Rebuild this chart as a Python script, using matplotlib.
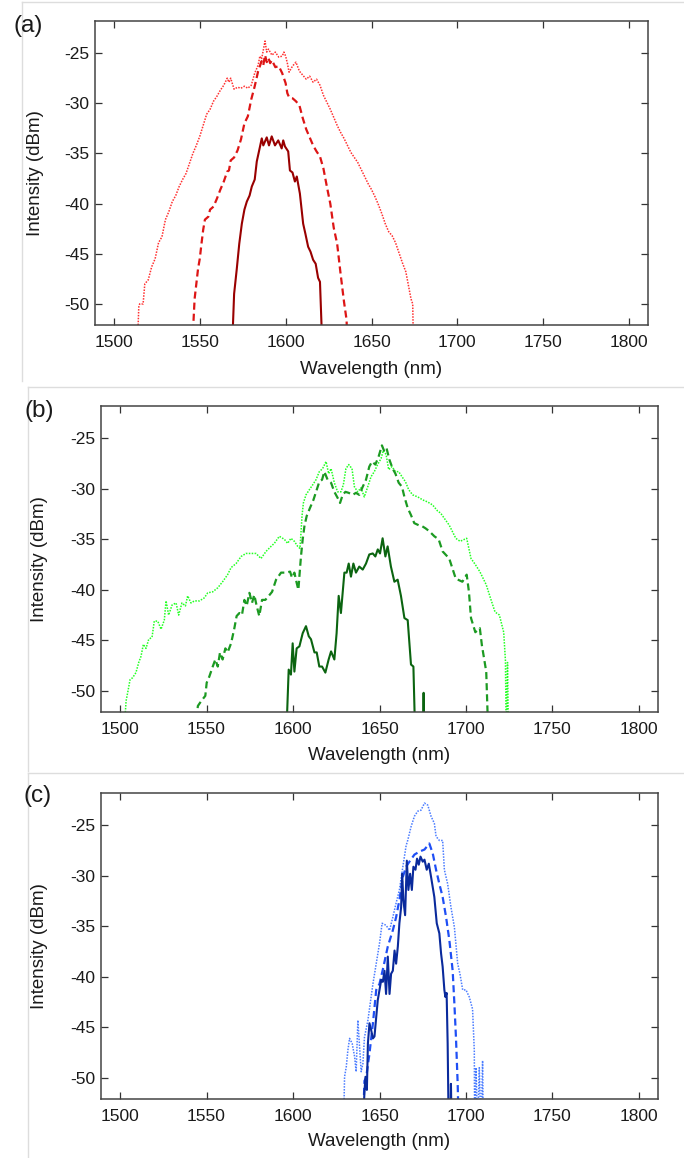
import matplotlib
matplotlib.use('Agg')
import matplotlib.pyplot as plt
import numpy as np
from matplotlib.lines import Line2D

plt.rcParams['font.family'] = ['Liberation Sans', 'DejaVu Sans']
plt.rcParams['axes.unicode_minus'] = False

# ---------------- data ----------------
x_ticks = [1500, 1550, 1600, 1650, 1700, 1750, 1800]
y_ticks = [-50, -45, -40, -35, -30, -25]
panel_labels = ['(a)', '(b)', '(c)']
x_label = 'Wavelength (nm)'
y_label = 'Intensity (dBm)'

# Panel (a)
a_dot_wl = [1513.5, 1514.5, 1515, 1517, 1518,
            1520, 1522, 1524, 1526, 1528, 1530, 1532, 1534, 1536, 1538, 1540, 1542,
            1544, 1546, 1548, 1550, 1552, 1554, 1556, 1558, 1560, 1562, 1564, 1566,
            1567, 1568, 1570, 1572, 1574, 1576, 1578, 1580, 1582,
            1584, 1585, 1586, 1587, 1588, 1589, 1590, 1592, 1594, 1596, 1598,
            1599, 1600, 1601, 1602,
            1604, 1606, 1608, 1610, 1612, 1614, 1616, 1618, 1620, 1622, 1624, 1626,
            1628, 1630, 1632, 1634, 1636, 1638, 1640, 1642, 1644, 1646, 1648, 1650,
            1652, 1654, 1656, 1658, 1660, 1662, 1664, 1666, 1668, 1670, 1672,
            1673, 1674, 1674.5]
a_dot_db = [-55, -50.3, -50.0, -50.0, -48.0,
            -47.6, -46.3, -45.5, -43.9, -43.3, -41.6, -40.8, -39.8, -39.2, -38.3, -37.6, -37.0,
            -36.0, -35.0, -34.2, -33.3, -32.2, -31.1, -30.6, -29.8, -29.3, -28.7, -28.2, -27.5,
            -27.9, -27.5, -28.6, -28.4, -28.5, -28.3, -28.5, -28.2, -27.0,
            -26.2, -25.3, -25.6, -24.7, -23.8, -24.9, -24.6, -25.2, -24.9, -25.4, -25.3,
            -24.9, -25.3, -26.0, -26.9,
            -26.3, -25.9, -26.8, -27.2, -27.6, -27.3, -27.9, -27.6, -28.2, -29.2, -29.9, -30.6,
            -31.4, -32.2, -32.9, -33.5, -34.2, -34.9, -35.4, -35.9, -36.6, -37.3, -38.0, -38.6,
            -39.3, -40.1, -41.0, -42.0, -42.8, -43.2, -43.9, -44.9, -45.9, -46.8, -48.6,
            -49.5, -50.0, -55]

a_dash_wl = [1545.4, 1547, 1548, 1549, 1550, 1551, 1552, 1553,
             1555, 1556, 1558, 1560, 1562, 1564, 1566, 1567, 1568,
             1570, 1572, 1574, 1576, 1578, 1580, 1582, 1584,
             1585, 1586, 1587, 1588, 1589, 1590, 1591, 1592,
             1594, 1596, 1598, 1600, 1601, 1602,
             1604, 1606, 1608, 1610, 1612, 1614, 1616, 1618, 1620, 1622, 1624, 1626,
             1628, 1630, 1632, 1634, 1635.5, 1636]
a_dash_db = [-55, -49.5, -48.0, -46.5, -45.5, -44.0, -42.6, -41.6,
             -41.3, -40.6, -40.3, -39.5, -38.6, -37.8, -36.8, -36.7, -35.7,
             -35.4, -34.7, -33.6, -32.0, -31.3, -29.6, -28.3, -26.8,
             -26.3, -25.8, -26.2, -25.2, -25.9, -25.5, -26.0, -25.7,
             -26.4, -26.3, -27.0, -28.0, -29.0, -29.4,
             -29.5, -29.8, -30.2, -31.5, -32.6, -33.4, -34.2, -34.8, -35.3, -36.5, -38.3, -40.0,
             -42.4, -44.0, -47.0, -49.8, -51.6, -55]

a_sol_wl = [1568.7, 1570, 1571.5, 1573, 1574.5, 1576, 1577.4, 1579, 1580.3, 1582,
            1583.2, 1585.1, 1586.1, 1587.0, 1589.0, 1590.3, 1591.9, 1593.8, 1595.7, 1597.7,
            1598.6, 1599.6, 1601.5, 1602.5, 1604, 1605.4, 1606.5, 1608.3, 1610.2, 1611.5,
            1613.1, 1614.5, 1616, 1617.5, 1618.9, 1620, 1621.5]
a_sol_db = [-55, -49.0, -46.6, -44.0, -42.0, -40.6, -39.8, -39.2, -38.3, -37.6,
            -35.8, -34.3, -33.5, -34.2, -33.4, -34.2, -33.3, -34.2, -33.7, -34.5,
            -33.7, -34.3, -34.8, -36.7, -36.9, -37.8, -37.3, -39.0, -42.0, -43.0,
            -44.3, -44.8, -45.6, -46.0, -47.4, -47.8, -55]

# Panel (b)
b_dot_wl = [1502.0, 1503.5, 1504.4, 1505.8, 1507.3, 1509.2, 1510.8, 1512.1, 1513.5, 1515.0,
            1516.6, 1518.5, 1519.8, 1521.8, 1523.7, 1525.6, 1526.6, 1528.1, 1530.1, 1532.4,
            1533.9, 1535.8, 1537.8, 1539.1, 1541.0, 1543.0, 1545.9, 1548.7, 1550.7, 1553.6,
            1556.5, 1559.3, 1562.2, 1564.2, 1567.1, 1570.0, 1572.8, 1575.7, 1578.6, 1581.5,
            1584.4, 1587.3, 1589.2, 1592.1, 1595.0, 1596.9, 1598.8, 1600.8, 1602.7, 1604.0,
            1604.6, 1605.2, 1606.0, 1607.5, 1609.4, 1611.4, 1613.3, 1615.2, 1617.1, 1619.1,
            1620.6, 1622.0, 1623.9, 1625.8, 1627.7, 1629.1, 1630.6, 1632.2, 1634.1, 1635.5,
            1637.4, 1639.3, 1641.2, 1643.2, 1645.1, 1647.0, 1648.9, 1650.9, 1652.2, 1653.8,
            1655.3, 1657.2, 1659.2, 1661.1, 1663.0, 1665.0, 1666.9, 1669.2, 1672.1, 1675.0,
            1677.8, 1680.7, 1683.6, 1685.3, 1690.3, 1694.1, 1696.6, 1700.4, 1702.9, 1705.4,
            1708.0, 1711.7, 1714.3, 1716.8, 1719.3, 1721.8, 1722.8, 1723.3, 1724.0, 1724.6]
b_dot_db = [-55, -51.0, -50.2, -48.9, -48.7, -48.2, -47.2, -46.6, -45.4, -45.8,
            -44.9, -44.7, -43.1, -43.1, -43.9, -43.0, -41.1, -42.5, -41.5, -41.3,
            -42.5, -41.3, -41.6, -40.6, -41.3, -41.1, -41.1, -40.8, -40.3, -40.2,
            -39.8, -39.2, -38.5, -37.8, -37.4, -36.7, -36.4, -36.4, -36.4, -36.9,
            -36.2, -35.7, -35.4, -34.7, -35.0, -35.4, -34.9, -35.2, -35.7, -35.9,
            -34.4, -32.7, -31.4, -30.6, -30.1, -29.6, -29.1, -28.3, -28.0, -27.3,
            -28.5, -28.0, -29.4, -30.3, -30.3, -29.6, -28.0, -27.6, -28.0, -29.8,
            -30.3, -29.9, -30.8, -29.8, -28.8, -28.3, -27.6, -27.0, -26.2, -26.6,
            -28.1, -27.8, -28.3, -28.3, -28.8, -29.3, -30.1, -30.6, -30.8, -31.1,
            -31.3, -31.6, -32.2, -32.4, -33.6, -34.9, -35.2, -34.9, -36.9, -37.5,
            -38.2, -39.5, -40.9, -42.2, -42.5, -44.2, -47.0, -55, -47.2, -55]

b_dash_wl = [1543.0, 1545.0, 1547.0, 1549.3, 1550.1, 1551.6, 1553.6, 1555.1, 1556.5, 1557.8,
             1559.3, 1560.9, 1562.2, 1564.2, 1566.1, 1567.4, 1569.0, 1570.5, 1571.9, 1573.2,
             1574.8, 1576.3, 1577.6, 1579.0, 1580.5, 1582.1, 1584.0, 1586.0, 1587.9, 1590.2,
             1593.1, 1596.0, 1598.3, 1599.4, 1600.8, 1602.1, 1603.1, 1604.0, 1604.6, 1605.6,
             1606.6, 1607.9, 1609.8, 1611.8, 1613.7, 1615.2, 1616.8, 1618.1, 1620.0, 1622.0,
             1623.9, 1625.8, 1627.2, 1628.7, 1630.3, 1632.2, 1634.5, 1636.4, 1638.3, 1640.3,
             1642.2, 1644.1, 1645.7, 1647.6, 1649.5, 1651.4, 1652.8, 1654.1, 1655.7, 1657.6,
             1659.2, 1661.1, 1663.0, 1664.4, 1666.3, 1668.2, 1670.1, 1672.6, 1674.6, 1676.5,
             1678.8, 1681.7, 1684.2, 1686.5, 1690.3, 1694.1, 1697.9, 1700.4, 1701.7, 1702.9,
             1705.4, 1708.0, 1709.2, 1711.7, 1713.0]
b_dash_db = [-55, -51.5, -51.0, -50.5, -49.2, -48.6, -47.6, -46.9, -47.6, -46.2,
             -46.9, -45.8, -46.2, -45.3, -43.8, -42.6, -42.3, -42.5, -41.0, -41.6,
             -40.3, -41.3, -40.5, -41.6, -42.6, -41.0, -41.0, -40.6, -40.2, -39.0,
             -38.3, -38.3, -38.2, -38.8, -38.3, -39.3, -40.0, -38.0, -36.7, -35.0,
             -33.7, -32.7, -31.9, -31.1, -30.1, -29.3, -29.1, -28.3, -29.1, -29.4,
             -30.3, -30.9, -31.4, -30.6, -30.3, -30.4, -30.6, -30.4, -30.6, -29.8,
             -29.1, -27.8, -27.3, -27.6, -26.8, -25.7, -26.3, -26.0, -27.1, -28.0,
             -28.5, -29.4, -29.8, -30.8, -31.9, -32.6, -33.4, -33.6, -33.7, -33.9,
             -34.2, -34.7, -35.0, -36.2, -36.9, -38.9, -39.2, -38.5, -40.2, -42.8,
             -44.2, -43.8, -45.5, -48.1, -55]

b_sol_wl = [1596.0, 1597.5, 1598.8, 1599.8, 1600.8, 1602.1, 1603.7, 1605.6, 1607.5, 1609.1,
            1610.4, 1612.4, 1613.7, 1615.2, 1616.8, 1618.7, 1620.6, 1622.0, 1623.9, 1625.2,
            1626.4, 1627.7, 1629.7, 1631.0, 1632.2, 1633.5, 1634.9, 1636.4, 1638.3, 1640.3,
            1642.2, 1644.1, 1646.1, 1647.6, 1649.0, 1650.3, 1651.8, 1653.4, 1654.7, 1656.6,
            1658.6, 1660.5, 1662.4, 1664.4, 1666.3, 1668.2, 1669.6, 1670.7, 1675.0, 1675.5,
            1676.0]
b_sol_db = [-55, -47.9, -48.4, -45.3, -48.1, -45.8, -45.6, -44.3, -43.6, -44.6,
            -44.9, -46.2, -46.2, -47.6, -47.6, -48.2, -46.9, -46.1, -46.9, -44.3,
            -40.6, -42.3, -38.3, -38.3, -37.4, -38.7, -37.4, -38.3, -37.7, -38.0,
            -37.4, -36.5, -36.4, -36.7, -36.0, -36.4, -34.9, -36.7, -35.7, -37.7,
            -39.2, -39.0, -40.6, -42.8, -43.0, -47.4, -47.6, -55, -55, -50.2,
            -55]

# Panel (c)
c_dot_wl = [1629.2, 1629.8, 1630.8, 1631.7, 1632.7, 1634.2, 1635.6, 1636.5, 1637.5, 1638.5,
            1639.4, 1640.4, 1641.3, 1643.3, 1646.2, 1648.1, 1650.0, 1651.5, 1653.8, 1655.8,
            1657.7, 1659.6, 1661.5, 1663.5, 1665.4, 1666.3, 1668.3, 1670.2, 1672.1, 1674.0,
            1676.0, 1677.9, 1679.8, 1681.7, 1682.7, 1684.6, 1686.5, 1687.5, 1689.4, 1691.3,
            1693.3, 1695.2, 1696.5, 1698.1, 1700.0, 1701.9, 1703.8, 1704.8, 1705.0, 1705.8,
            1706.7, 1707.7, 1708.7, 1709.6, 1710.0]
c_dot_db = [-55, -49.9, -48.9, -47.3, -46.1, -46.6, -47.9, -49.4, -44.3, -47.0,
            -49.4, -48.6, -46.0, -44.3, -40.7, -38.7, -36.7, -34.7, -34.9, -35.4,
            -34.1, -32.7, -31.4, -29.1, -27.0, -26.5, -25.1, -24.1, -23.6, -23.5,
            -22.8, -23.0, -24.1, -24.8, -26.1, -26.5, -26.5, -29.4, -30.8, -33.1,
            -35.1, -38.7, -39.7, -41.3, -41.3, -42.0, -43.2, -47.3, -55, -49.0,
            -55, -49.0, -55, -48.3, -55]

c_dash_wl = [1640.4, 1641.3, 1642.3, 1643.3, 1644.2, 1646.2, 1648.1, 1650.0, 1651.9, 1654.8,
             1657.7, 1659.6, 1661.5, 1663.5, 1665.4, 1667.3, 1670.2, 1673.1, 1676.0, 1678.8,
             1680.8, 1682.7, 1684.6, 1686.5, 1688.5, 1690.4, 1692.3, 1693.3, 1694.2, 1695.2,
             1695.8]
c_dash_db = [-55, -50.3, -50.0, -48.7, -47.6, -44.6, -41.3, -40.7, -39.3, -37.0,
             -35.4, -34.1, -32.4, -30.1, -29.1, -28.6, -27.9, -27.6, -27.4, -26.8,
             -27.8, -29.4, -30.8, -32.1, -34.1, -36.4, -39.4, -42.7, -46.0, -50.6,
             -55]

c_sol_wl = [1640.4, 1641.3, 1641.9, 1642.7, 1643.3, 1644.2, 1645.2, 1646.2, 1647.1, 1648.1,
            1649.0, 1650.0, 1651.0, 1651.9, 1652.9, 1653.8, 1654.8, 1655.8, 1656.7, 1657.7,
            1658.7, 1659.6, 1660.6, 1661.5, 1662.5, 1663.1, 1663.8, 1664.8, 1665.8, 1666.7,
            1667.7, 1668.7, 1669.6, 1670.8, 1671.7, 1672.7, 1673.7, 1675.0, 1676.0, 1677.3,
            1678.5, 1679.8, 1681.7, 1683.1, 1684.6, 1685.6, 1686.5, 1687.5, 1688.1, 1688.8,
            1689.4, 1690.0, 1690.9, 1691.3, 1691.7]
c_sol_db = [-55, -51.4, -49.9, -51.2, -46.6, -44.6, -45.3, -46.1, -45.9, -44.0,
            -42.3, -41.3, -40.3, -40.5, -39.4, -41.7, -38.0, -41.7, -39.7, -39.4,
            -37.4, -38.7, -37.0, -34.7, -33.1, -29.8, -32.4, -33.9, -28.5, -31.4,
            -29.8, -31.4, -29.1, -29.4, -28.3, -28.9, -28.1, -28.6, -28.4, -29.4,
            -28.8, -30.1, -32.1, -34.7, -35.7, -37.7, -39.0, -41.3, -42.0, -41.6,
            -46.6, -55, -55, -50.6, -55]

# ---------------- figure ----------------
W, H = 684, 1158
fig = plt.figure(figsize=(W / 100, H / 100), dpi=100)


def rect_px(l, t, r, b):
    return [l / W, 1 - b / H, (r - l) / W, (b - t) / H]


DOT = (0, (1, 0.9))
DASH = (0, (3.2, 1.8))

panels = [
    dict(rect=(95, 21, 648, 325), lab=(28, 26), ylab_x=35, xlab_y=369,
         series=[(a_dot_wl, a_dot_db, '#ff3030', DOT, 1.1),
                 (a_dash_wl, a_dash_db, '#dd1515', DASH, 1.6),
                 (a_sol_wl, a_sol_db, '#990000', '-', 1.5)]),
    dict(rect=(101, 406, 658, 712), lab=(39, 411), ylab_x=40, xlab_y=756,
         series=[(b_dot_wl, b_dot_db, '#22ff22', DOT, 1.1),
                 (b_dash_wl, b_dash_db, '#1c9a22', DASH, 1.6),
                 (b_sol_wl, b_sol_db, '#0b6410', '-', 1.5)]),
    dict(rect=(101, 793, 658, 1099), lab=(38, 796), ylab_x=40, xlab_y=1142,
         series=[(c_dot_wl, c_dot_db, '#4a7cff', DOT, 1.1),
                 (c_dash_wl, c_dash_db, '#1f4ff5', DASH, 1.6),
                 (c_sol_wl, c_sol_db, '#0a2a9c', '-', 1.5)]),
]

for i, p in enumerate(panels):
    l, t, r, b = p['rect']
    ax = fig.add_axes(rect_px(l, t, r, b))
    for wl, db, col, ls, lw in p['series']:
        ax.plot(wl, db, color=col, linestyle=ls, linewidth=lw)
    ax.set_xlim(1489, 1811)
    ax.set_ylim(-52.1, -21.8)
    ax.set_xticks(x_ticks)
    ax.set_yticks(y_ticks)
    ax.tick_params(direction='in', top=True, right=True, length=5, width=0.9,
                   labelsize=12.5, colors='#333333', labelcolor='#1a1a1a')
    ax.tick_params(axis='x', pad=7)
    ax.tick_params(axis='y', pad=4)
    for s in ax.spines.values():
        s.set_linewidth(1.1)
        s.set_color('#444444')
    ax.set_xlabel(x_label, fontsize=13.5, va='center', color='#1a1a1a')
    ax.set_ylabel(y_label, fontsize=13.5, va='center', color='#1a1a1a')
    ax.xaxis.set_label_coords(0.5, -(p['xlab_y'] - b) / (b - t))
    ax.yaxis.set_label_coords((p['ylab_x'] - l) / (r - l), 0.5)
    fig.text(p['lab'][0] / W, 1 - p['lab'][1] / H, panel_labels[i],
             ha='center', va='center', fontsize=17.5, color='#1a1a1a')

# faint frames of the composite
frame_col = '#dddddd'
frame_lines = [
    ((22, 684), (1.5, 1.5)), ((22, 22), (1.5, 381)),
    ((28, 684), (387, 387)), ((28, 28), (387, 771)),
    ((28, 684), (773, 773)), ((28, 28), (773, 1158)),
]
for xs, ys in frame_lines:
    fig.add_artist(Line2D([x / W for x in xs], [1 - y / H for y in ys],
                          color=frame_col, lw=1.0, transform=fig.transFigure))

fig.savefig('out.png', dpi=100)
